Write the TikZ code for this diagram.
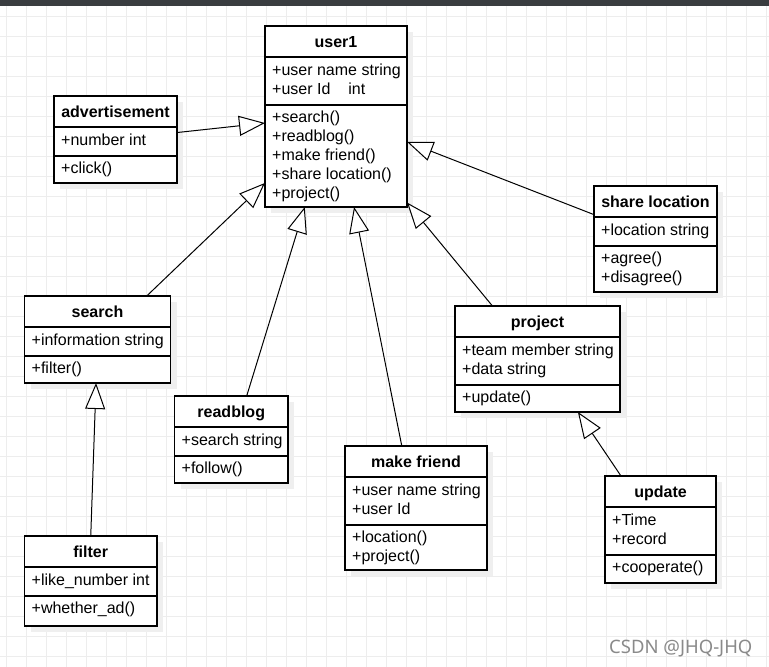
\documentclass[tikz,border=0pt]{standalone}
\usepackage{fontspec}
\setmainfont{Liberation Sans}
\newfontfamily\wmfont{Noto Sans}
\usetikzlibrary{arrows.meta,calc}
\definecolor{gridc}{HTML}{EDEDED}
\definecolor{barc}{HTML}{3A3D40}
\definecolor{shadowc}{HTML}{EFEFEF}
\definecolor{wmc}{HTML}{8A8A8A}

\tikzset{
 boxnode/.style={draw=black, fill=white, line width=1.1pt, inner sep=0pt, outer sep=0pt, anchor=north west},
 shadowbox/.style={fill=shadowc, draw=none},
 divline/.style={line width=1.1pt},
 ctitle/.style={font=\fontsize{16}{19}\selectfont\bfseries, inner sep=0pt, anchor=base},
 member/.style={font=\fontsize{16}{19}\selectfont, inner sep=0pt, anchor=base west},
 gen/.style={line width=1pt, -{Triangle[length=26pt,width=20pt,fill=white]}},
 gridline/.style={draw=gridc, line width=1pt},
}

\newcommand\umlclass[9]{%
 \fill[shadowbox] ({#2+6},{#3+6}) rectangle ({#4+6},{#5+6});
 \node[boxnode, minimum width={#4-#2}, minimum height={#5-#3}] (#1) at (#2,#3) {};
 \draw[divline] (#2,{#3+31}) -- (#4,{#3+31});
 \draw[divline] (#2,#6) -- (#4,#6);
 \node[ctitle] (#1-t) at ({(#2+#4)/2},{#3+21}) {#7};
 \foreach \m [count=\i] in {#8} \node[member] (#1-a\i) at ({#2+7},{#3+31+18+(\i-1)*19}) {\m};
 \foreach \m [count=\i] in {#9} \node[member] (#1-m\i) at ({#2+7},{#6+17+(\i-1)*19}) {\m};
}

\begin{document}
\begin{tikzpicture}[x=1pt,y=-1pt]
\useasboundingbox (0,0) rectangle (769,667);
\fill[white] (0,0) rectangle (769,667);
\foreach \x in {6,26,...,766} \draw[gridline] (\x,0) -- (\x,667);
\foreach \y in {16,36,...,656} \draw[gridline] (0,\y) -- (769,\y);
\fill[barc] (0,0) rectangle (769,6);

\umlclass{u1}{265}{26}{407}{207}{105}{user1}{+user name string,+user Id\hspace{18pt}int}{+search(),+readblog(),+make friend(),+share location(),+project()}
\umlclass{adv}{54}{96}{177}{183}{156}{advertisement}{+number int}{+click()}
\umlclass{sl}{594}{186}{717}{292}{246}{share location}{+location string}{+agree(),+disagree()}
\umlclass{proj}{455}{306}{620}{412}{385}{project}{+team member string,+data string}{+update()}
\umlclass{srch}{24.5}{296}{170.5}{383}{356}{search}{+information string}{+filter()}
\umlclass{rb}{174.5}{396}{288}{483}{456}{readblog}{+search string}{+follow()}
\umlclass{mf}{345}{446}{487}{570}{525}{make friend}{+user name string,+user Id}{+location(),+project()}
\umlclass{upd}{605}{476}{716}{583}{555}{update}{+Time,+record}{+cooperate()}
\umlclass{flt}{24.5}{536}{157}{626}{596}{filter}{+like\_number int}{+whether\_ad()}

\draw[gen] ($(adv.north east)!0.42!(adv.south east)$) -- ($(u1.north west)!0.536!(u1.south west)$);
\draw[gen] ($(srch.north west)!0.837!(srch.north east)$) -- ($(u1.north west)!0.867!(u1.south west)$);
\draw[gen] ($(rb.north west)!0.636!(rb.north east)$) -- ($(u1.south west)!0.28!(u1.south east)$);
\draw[gen] ($(mf.north west)!0.4!(mf.north east)$) -- ($(u1.south west)!0.627!(u1.south east)$);
\draw[gen] ($(proj.north west)!0.227!(proj.north east)$) -- ($(u1.north east)!0.975!(u1.south east)$);
\draw[gen] ($(sl.north west)!0.27!(sl.south west)$) -- ($(u1.north east)!0.64!(u1.south east)$);
\draw[gen] (flt.north) -- ($(srch.south west)!0.49!(srch.south east)$);
\draw[gen] ($(upd.north west)!0.144!(upd.north east)$) -- ($(proj.south west)!0.745!(proj.south east)$);

\node[font=\wmfont\fontsize{18.5}{20}\selectfont, text=wmc, anchor=base west, inner sep=0pt] (wm) at (609,653) {CSDN @JHQ-JHQ};
\end{tikzpicture}
\end{document}
